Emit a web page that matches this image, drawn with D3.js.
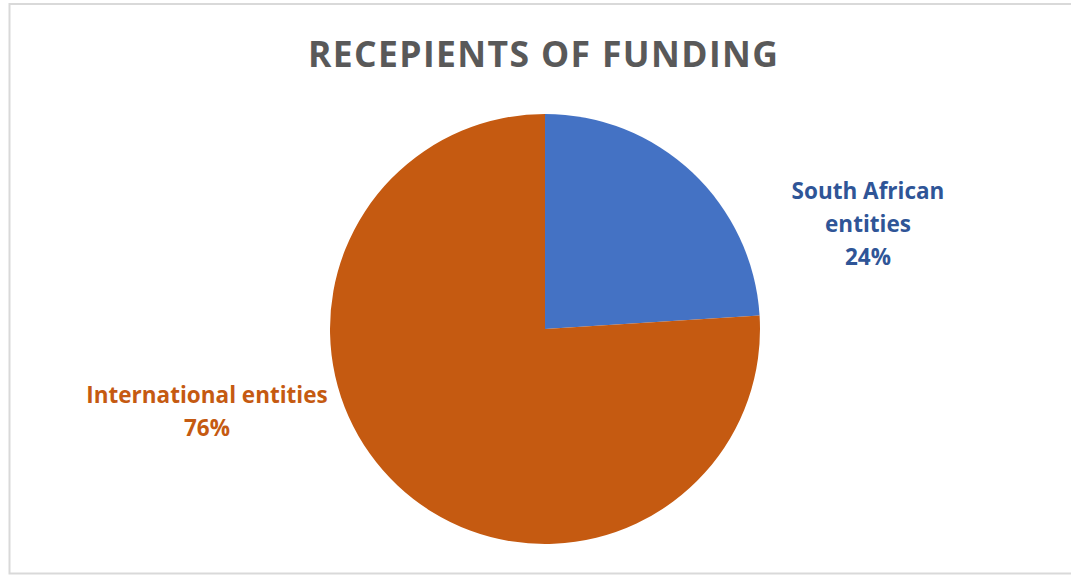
<!DOCTYPE html>
<html>
<head>
<meta charset="utf-8">
<script src="https://cdn.jsdelivr.net/npm/d3@7"></script>
<style>
  html, body { margin: 0; padding: 0; background: #ffffff; }
  svg { display: block; }
  text { font-variant-ligatures: none; font-feature-settings: "liga" 0; }
</style>
</head>
<body>
<svg id="chart" width="1071" height="575"></svg>
<script>
// Funding recipients, share of total (%)
const categories = ["South African entities", "International entities"];
const shares = [24, 76];
const labelLines = [["South African", "entities", "24%"], ["International entities", "76%"]];
const sliceColors = ["#4472C4", "#C55A11"];
const labelColors = ["#2F5597", "#C55A11"];

const W = 1071, H = 575;
const cx = 545, cy = 329, radius = 215;
const fontStack = "'Open Sans', Lato, sans-serif";

const svg = d3.select("#chart");

// Chart frame
svg.append("rect")
  .attr("x", 9.5).attr("y", 4)
  .attr("width", W + 20).attr("height", 569.5)
  .attr("fill", "#ffffff")
  .attr("stroke", "#d9d9d9")
  .attr("stroke-width", 2);

// Title
svg.append("text")
  .attr("x", 543).attr("y", 67)
  .attr("text-anchor", "middle")
  .attr("font-family", fontStack)
  .attr("font-weight", 700)
  .attr("font-size", 35.5)
  .attr("fill", "#595959")
  .attr("textLength", 470)
  .attr("lengthAdjust", "spacing")
  .text("RECEPIENTS OF FUNDING");

const data = categories.map((c, i) => ({ name: c, value: shares[i], idx: i }));

const pie = d3.pie().value(d => d.value).sort(null).startAngle(0).endAngle(2 * Math.PI);
const arc = d3.arc().innerRadius(0).outerRadius(radius);
const arcs = pie(data);

const g = svg.append("g").attr("transform", `translate(${cx},${cy})`);

g.selectAll("path.slice")
  .data(arcs)
  .join("path")
  .attr("class", "slice")
  .attr("d", arc)
  .attr("fill", d => sliceColors[d.data.idx]);

// Data labels placed beside each slice (best-fit style)
const labelAnchor = [
  { dx: 323, dy: -130 },   // first line baseline relative to pie centre
  { dx: -338, dy: 74 }
];
const lineStep = 33;

arcs.forEach(a => {
  const i = a.data.idx;
  const t = svg.append("text")
    .attr("text-anchor", "middle")
    .attr("font-family", fontStack)
    .attr("font-weight", 700)
    .attr("font-size", 22.5)
    .attr("fill", labelColors[i]);
  labelLines[i].forEach((line, k) => {
    const txt = k === labelLines[i].length - 1 ? `${a.data.value}%` : line;
    t.append("tspan")
      .attr("x", cx + labelAnchor[i].dx)
      .attr("y", cy + labelAnchor[i].dy + k * lineStep)
      .text(txt);
  });
});
</script>
</body>
</html>
